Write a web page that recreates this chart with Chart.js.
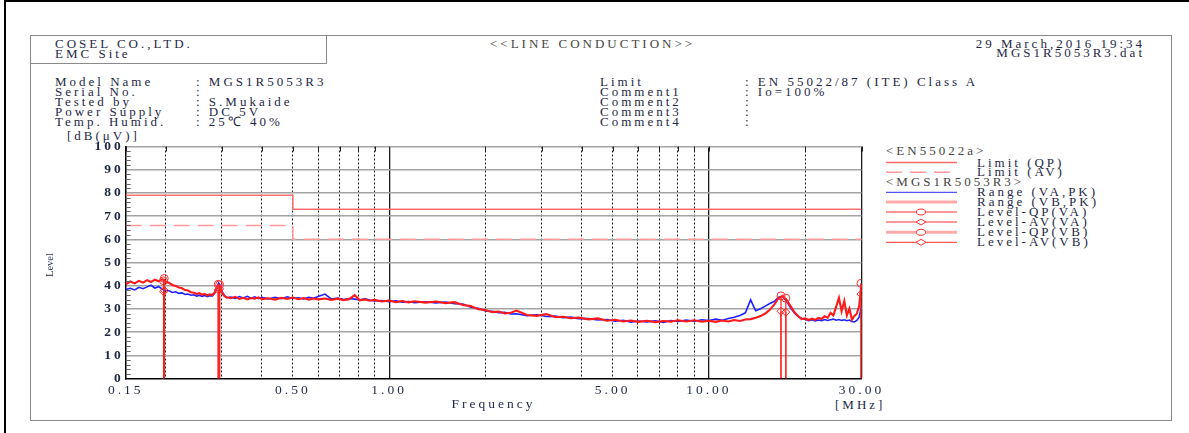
<!DOCTYPE html>
<html>
<head>
<meta charset="utf-8">
<script src="https://cdn.jsdelivr.net/npm/chart.js@4.4.1/dist/chart.umd.min.js"></script>
<style>
  body { margin: 0; background: #fff; }
  #page { position: relative; width: 1189px; height: 433px; overflow: hidden; font-family: "Liberation Serif", serif; font-size: 13px; letter-spacing: 3px; color: #1e2846; }
  #page canvas { position: absolute; left: 0; top: 0; }
  .t { position: absolute; white-space: pre; line-height: 12px; }
  .ln { position: absolute; background: #000; }
  #box { position: absolute; left: 30px; top: 35px; width: 1140px; height: 384px; border: 1px solid #8a8a8a; }
  #hdr { position: absolute; left: 30px; top: 35px; width: 296px; height: 28px; border-right: 1px solid #8a8a8a; border-bottom: 1px solid #8a8a8a; }
  svg { position: absolute; left: 0; top: 0; }
</style>
</head>
<body>
<div id="page">
  <div class="ln" style="left:4px;top:0;width:1185px;height:2px"></div>
  <div class="ln" style="left:4px;top:0;width:2px;height:433px"></div>
  <div id="box"></div>
  <div id="hdr"></div>

  <div class="t" style="left:55px;top:39px;line-height:9.5px">COSEL CO.,LTD.<br>EMC Site</div>
  <div class="t" style="left:490px;top:38px;color:#444">&lt;&lt;LINE CONDUCTION&gt;&gt;</div>
  <div class="t" style="right:44px;top:38.5px;line-height:9.5px;text-align:right">29 March,2016 19:34<br>MGS1R5053R3.dat</div>

  <div class="t" style="left:55px;top:76.6px;line-height:10.15px">Model Name<br>Serial No.<br>Tested by<br>Power Supply<br>Temp. Humid.</div>
  <div class="t" style="left:196px;top:76.6px;line-height:10.15px">: MGS1R5053R3<br>:<br>: S.Mukaide<br>: DC 5V<br>: 25℃ 40%</div>
  <div class="t" style="left:600px;top:76.6px;line-height:10.15px">Limit<br>Comment1<br>Comment2<br>Comment3<br>Comment4</div>
  <div class="t" style="left:745px;top:76.6px;line-height:10.15px">: EN 55022/87 (ITE) Class A<br>: Io=100%<br>:<br>:<br>:</div>

  <div class="t" style="left:67px;top:130px">[dB(μV)]</div>
  <div class="t" style="left:835px;top:399px">[MHz]</div>

  <div class="t" style="left:886px;top:145px;color:#444">&lt;EN55022a&gt;</div>
  <div class="t" style="left:977px;top:156.5px">Limit (QP)</div>
  <div class="t" style="left:977px;top:166.3px">Limit (AV)</div>
  <div class="t" style="left:886px;top:176.3px;color:#444">&lt;MGS1R5053R3&gt;</div>
  <div class="t" style="left:977px;top:186.3px">Range (VA,PK)</div>
  <div class="t" style="left:977px;top:196px">Range (VB,PK)</div>
  <div class="t" style="left:977px;top:206px">Level-QP(VA)</div>
  <div class="t" style="left:977px;top:216px">Level-AV(VA)</div>
  <div class="t" style="left:977px;top:226.3px">Level-QP(VB)</div>
  <div class="t" style="left:977px;top:236.3px">Level-AV(VB)</div>

  <canvas id="emc" width="1189" height="433"></canvas>

  <div class="t" style="left:50px;top:265px;font-size:10.5px;letter-spacing:0;transform:translate(-50%,-50%) rotate(-90deg)">Level</div>

  <svg width="1189" height="433">
    <line x1="886" x2="957" y1="162.5" y2="162.5" stroke="#ff6b6b" stroke-width="1.5"/>
    <line x1="886" x2="957" y1="172.3" y2="172.3" stroke="#ff9a9a" stroke-width="1.5" stroke-dasharray="16 8"/>
    <line x1="886" x2="957" y1="192.3" y2="192.3" stroke="#2828ff" stroke-width="1"/>
    <line x1="886" x2="957" y1="202" y2="202" stroke="#ffabab" stroke-width="3"/>
    <line x1="886" x2="957" y1="212" y2="212" stroke="#ff3030" stroke-width="1"/>
    <ellipse cx="921" cy="212" rx="4.5" ry="3" fill="#fff" stroke="#ff3030"/>
    <line x1="886" x2="957" y1="222" y2="222" stroke="#ff3030" stroke-width="1"/>
    <polygon points="916,222 921,219 926,222 921,225" fill="#fff" stroke="#ff3030"/>
    <line x1="886" x2="957" y1="232.3" y2="232.3" stroke="#ffabab" stroke-width="3"/>
    <ellipse cx="921" cy="232.3" rx="4.5" ry="3" fill="#fff" stroke="#ff3030"/>
    <line x1="886" x2="957" y1="242.3" y2="242.3" stroke="#ff3030" stroke-width="1"/>
    <polygon points="916,242.3 921,239.3 926,242.3 921,245.3" fill="#fff" stroke="#ff3030"/>
  </svg>
</div>

<script>
// frequencies in MHz, shared by both sweeps
const freqs = [
  0.150, 0.155, 0.160, 0.165, 0.170, 0.175, 0.180, 0.185, 0.190, 0.195,
  0.198, 0.200, 0.205, 0.210, 0.215, 0.220, 0.225, 0.230, 0.235, 0.240,
  0.245, 0.250, 0.255, 0.260, 0.265, 0.270, 0.275, 0.280, 0.285, 0.290,
  0.293, 0.296, 0.300, 0.305, 0.310,
  0.32, 0.33, 0.34, 0.35, 0.36, 0.37, 0.38, 0.39, 0.40,
  0.42, 0.44, 0.46, 0.48, 0.50,
  0.52, 0.54, 0.56, 0.58, 0.60,
  0.63, 0.66, 0.69, 0.72, 0.75, 0.78, 0.81, 0.84, 0.87, 0.90,
  0.95, 1.00, 1.05, 1.10, 1.15, 1.20,
  1.3, 1.4, 1.5, 1.6, 1.7, 1.8, 1.9, 2.0, 2.1, 2.2, 2.3, 2.4, 2.5,
  2.7, 2.9, 3.1, 3.3, 3.5, 3.7, 3.9,
  4.2, 4.5, 4.8, 5.1, 5.4, 5.7, 6.0,
  6.4, 6.8, 7.2, 7.6, 8.0,
  8.5, 9.0, 9.5, 10.0, 10.5, 11.0, 11.5, 12.0, 12.5, 13.0,
  13.5, 14.0, 14.5, 15.0, 15.5, 16.0, 16.5, 17.0, 17.5, 18.0,
  18.5, 19.0, 19.5, 20.0, 20.5, 21.0, 21.5, 22.0, 22.5, 23.0,
  23.5, 24.0, 24.5, 25.0, 25.5, 26.0, 26.5, 27.0, 27.5, 28.0,
  28.5, 29.0, 29.5, 30.0
]

// Range (VA,PK) - blue
const rangeVA = [
  38.4, 38.9, 38.2, 39.3, 38.7, 39.5, 40.2, 39.0, 39.6, 38.6,
  38.3, 38.0, 37.8, 37.1, 37.4, 36.7, 36.9, 36.2, 36.4, 35.9,
  36.1, 35.5, 35.9, 35.4, 35.8, 35.3, 35.7, 35.6, 36.8, 39.6,
  41.2, 40.3, 37.5, 35.9, 34.8,
  35.1, 34.5, 35.3, 34.7, 35.4, 34.6, 35.2, 34.4, 35.0,
  34.3, 35.0, 34.4, 35.2, 34.5,
  34.8, 34.3, 35.0, 34.6, 35.3,
  36.4, 34.2, 34.7, 34.0, 34.5, 34.2, 33.9, 34.3, 33.8, 33.4,
  33.6, 33.1, 33.5, 32.9, 33.2, 32.7,
  33.1, 32.6, 33.0, 32.2, 32.1, 30.7, 30.3, 29.1, 29.0, 28.4, 28.5, 27.8, 27.9,
  27.1, 27.5, 26.7, 26.9, 26.2, 26.5, 25.8,
  25.8, 25.2, 25.4, 24.7, 25.1, 24.3, 24.8,
  24.4, 24.9, 24.2, 25.0, 24.6,
  25.2, 24.7, 25.3, 25.0, 25.6, 25.1, 25.9, 26.4, 27.2, 28.3,
  33.9, 29.2, 30.1, 31.2, 32.3, 33.2, 35.0, 35.4, 33.3, 30.5,
  28.3, 26.8, 25.9, 25.5, 24.9, 25.3, 24.8, 25.2, 24.9, 25.4,
  25.0, 25.3, 25.6, 25.1, 25.4, 25.0, 25.3, 24.9, 25.2, 24.6,
  24.4, 25.0, 26.4, 31.0
]

// Range (VB,PK) - red
const rangeVB = [
  40.6, 41.8, 41.0, 42.1, 41.3, 42.4, 41.6, 42.6, 41.9, 42.8,
  42.3, 41.8, 41.2, 40.3, 39.9, 39.2, 38.9, 38.1, 37.9, 37.2,
  37.0, 36.4, 36.8, 36.1, 36.5, 35.8, 36.3, 36.0, 37.2, 39.4,
  40.2, 39.1, 37.0, 35.6, 35.0,
  34.6, 35.2, 34.3, 34.8, 34.1, 34.7, 34.4, 35.0, 34.2,
  34.6, 34.0, 34.8, 34.3, 34.9,
  34.2, 34.7, 34.0, 34.5, 34.1,
  34.5, 33.9, 34.4, 33.8, 34.2, 35.9, 33.7, 34.1, 33.5, 33.9,
  33.2, 33.6, 32.9, 33.4, 32.8, 33.3,
  32.7, 33.2, 32.5, 32.9, 31.7, 31.2, 29.9, 29.5, 28.6, 28.9, 28.0, 28.3, 29.3,
  27.4, 27.0, 27.8, 26.5, 26.6, 26.0, 26.3,
  25.5, 25.9, 24.9, 25.3, 24.6, 25.0, 24.4,
  24.9, 24.3, 24.8, 24.5, 25.1,
  24.6, 25.1, 24.5, 24.9, 24.4, 25.0, 24.6, 25.2, 24.8, 25.4,
  25.6, 26.2, 26.9, 28.0, 29.6, 31.8, 34.6, 35.6, 33.9, 31.2,
  28.6, 26.9, 25.6, 25.9, 25.2, 25.8, 25.3, 26.1, 25.6, 26.8,
  26.2, 28.3, 27.2, 31.0, 34.8, 29.0, 33.4, 27.2, 30.1, 25.4,
  27.0, 27.9, 31.2, 41.0
]

// EN55022 class A limits
const limitFreqs = [0.15, 0.5, 0.5, 30]
const limitQP = [79, 79, 73, 73]
const limitAV = [66, 66, 60, 60]

// final measurement points
const levelFreqVA = [0.197, 0.292, 16.8]
const levelQpVA = [42.1, 40.6, 35.6]
const levelAvVA = [37.4, 38.2, 29.0]
const levelFreqVB = [0.198, 0.295, 17.4, 29.9]
const levelQpVB = [43.1, 40.4, 34.6, 41.0]
const levelAvVB = [38.0, 38.6, 28.6, 36.4]

// axes
const xGridValues = [0.15, 0.2, 0.3, 0.4, 0.5, 0.6, 0.7, 0.8, 0.9, 1, 2, 3, 4, 5, 6, 7, 8, 9, 10, 20, 30]
const xSolidValues = [1, 10, 30]
const xLabelValues = [0.15, 0.5, 1, 5, 10, 30]
const xLabelTexts = ["0.15", "0.50", "1.00", "5.00", "10.00", "30.00"]
const yMinorTicks = [2, 4, 6, 8, 12, 14, 16, 18, 22, 24, 26, 28, 32, 34, 36, 38, 42, 44, 46, 48,
  52, 54, 56, 58, 62, 64, 66, 68, 72, 74, 76, 78, 82, 84, 86, 88, 92, 94, 96, 98]

const textColor = "#1e2846"

function points(xs, ys) {
  return xs.map((x, i) => ({ x: x, y: ys[i] }))
}

function stems(xs, ys) {
  return xs.flatMap((x, i) => [{ x: x, y: 0 }, { x: x, y: ys[i] }, { x: x, y: null }])
}

function markerRadius(ctx) {
  return ctx.raw && ctx.raw.y > 0 ? 4 : 0
}

function levelSet(label, data, style, color, order) {
  return {
    label: label,
    data: data,
    borderColor: color,
    borderWidth: 1.2,
    pointStyle: style,
    pointRadius: markerRadius,
    pointBorderColor: "#ff3030",
    pointBackgroundColor: "rgba(255,255,255,0)",
    pointBorderWidth: 1,
    order: order,
  }
}

// letter spacing for the canvas text, like the printed report
const spacing = {
  id: "spacing",
  beforeDraw(chart) {
    chart.ctx.letterSpacing = "3px"
  },
  afterDraw(chart) {
    chart.ctx.letterSpacing = "0px"
  },
}

// short ticks inside the left edge and at the top of the plot
const innerTicks = {
  id: "innerTicks",
  afterDraw(chart) {
    const { ctx, chartArea, scales } = chart
    ctx.save()
    ctx.strokeStyle = "#666"
    ctx.lineWidth = 1
    yMinorTicks.forEach((v) => {
      const y = Math.round(scales.y.getPixelForValue(v)) + 0.5
      ctx.beginPath()
      ctx.moveTo(chartArea.left, y)
      ctx.lineTo(chartArea.left + 5, y)
      ctx.stroke()
    })
    ctx.strokeStyle = "#222"
    xGridValues.forEach((v) => {
      const x = Math.round(scales.x.getPixelForValue(v)) + 0.5
      ctx.beginPath()
      ctx.moveTo(x, chartArea.top)
      ctx.lineTo(x, chartArea.top + 5)
      ctx.stroke()
    })
    ctx.restore()
  },
}

Chart.defaults.font.family = "'Liberation Serif', serif"
Chart.defaults.color = textColor

new Chart(document.getElementById("emc"), {
  type: "line",
  data: {
    datasets: [
      levelSet("Level-QP(VB)", stems(levelFreqVB, levelQpVB), "circle", "#ff2020", 0),
      levelSet("Level-AV(VB)", stems(levelFreqVB, levelAvVB), "rectRot", "#ff2020", 0),
      levelSet("Level-QP(VA)", stems(levelFreqVA, levelQpVA), "circle", "#ff2020", 0),
      levelSet("Level-AV(VA)", stems(levelFreqVA, levelAvVA), "rectRot", "#ff2020", 0),
      {
        label: "Range (VB,PK)",
        data: points(freqs, rangeVB),
        borderColor: "#ff1a1a",
        borderWidth: 2.1,
        pointRadius: 0,
        order: 1,
      },
      {
        label: "Range (VA,PK)",
        data: points(freqs, rangeVA),
        borderColor: "#1f1fff",
        borderWidth: 1.6,
        pointRadius: 0,
        order: 2,
      },
      {
        label: "Limit (QP)",
        data: points(limitFreqs, limitQP),
        borderColor: "#ff7070",
        borderWidth: 1.5,
        pointRadius: 0,
        order: 3,
      },
      {
        label: "Limit (AV)",
        data: points(limitFreqs, limitAV),
        borderColor: "#ff9a9a",
        borderWidth: 1.5,
        borderDash: [16, 8],
        pointRadius: 0,
        order: 3,
      },
    ],
  },
  options: {
    responsive: false,
    animation: false,
    layout: {
      padding: { left: 65.7, right: 327.5, top: 146.5, bottom: 20.2 },
    },
    plugins: {
      legend: { display: false },
      tooltip: { enabled: false },
    },
    scales: {
      x: {
        type: "logarithmic",
        min: 0.15,
        max: 30,
        afterFit: (scale) => {
          scale.height = 34.3
        },
        afterBuildTicks: (scale) => {
          scale.ticks = xGridValues.map((v) => ({ value: v }))
        },
        ticks: {
          autoSkip: false,
          maxRotation: 0,
          minRotation: 0,
          padding: 4,
          font: { size: 13.5 },
          color: textColor,
          callback: (v) => {
            const i = xLabelValues.indexOf(v)
            return i >= 0 ? xLabelTexts[i] : ""
          },
        },
        grid: {
          drawTicks: false,
          color: (ctx) => (ctx.tick && ctx.tick.value === 0.15 ? "rgba(0,0,0,0)" : "#1a1a1a"),
          lineWidth: (ctx) => (ctx.tick && xSolidValues.includes(ctx.tick.value) ? 1.3 : 1),
        },
        border: {
          color: "#000",
          width: 1.5,
          dash: (ctx) => (ctx.tick && !xSolidValues.includes(ctx.tick.value) ? [2, 2] : []),
        },
        title: {
          display: true,
          text: "Frequency",
          font: { size: 13.5 },
          color: textColor,
          padding: 0,
        },
      },
      y: {
        min: 0,
        max: 100,
        afterFit: (scale) => {
          scale.width = 60
        },
        ticks: {
          stepSize: 10,
          padding: 2,
          font: { size: 13.5, weight: "bold" },
          color: textColor,
        },
        grid: {
          drawTicks: false,
          color: (ctx) => (ctx.tick && ctx.tick.value === 0 ? "rgba(0,0,0,0)" : "#a3a3a3"),
          lineWidth: 1.6,
        },
        border: { color: "#000", width: 1.5 },
      },
    },
  },
  plugins: [spacing, innerTicks],
})
</script>
</body>
</html>
